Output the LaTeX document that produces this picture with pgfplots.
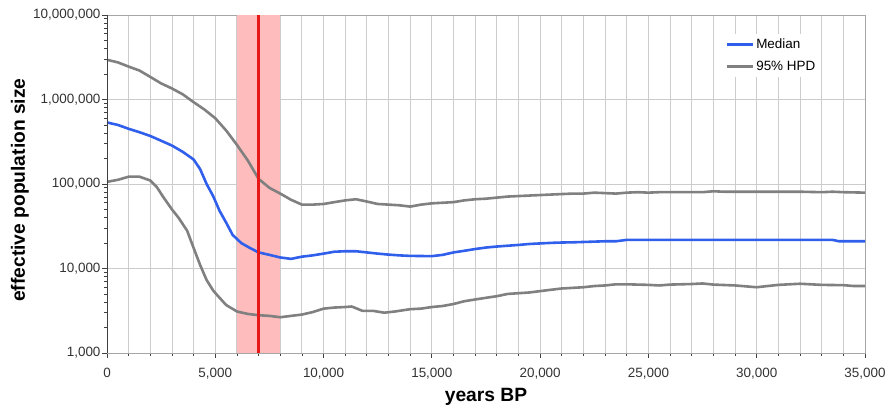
\documentclass[border=0pt]{standalone}
\usepackage{fontspec}
\setmainfont{Liberation Sans}
\usepackage{pgfplots}
\pgfplotsset{compat=1.18}

\definecolor{medblue}{RGB}{48,96,235}
\definecolor{hpdgray}{RGB}{128,128,128}
\definecolor{bandred}{RGB}{255,188,188}
\definecolor{linered}{RGB}{232,24,24}
\definecolor{gridgray}{RGB}{204,204,204}

\begin{document}
\begin{tikzpicture}
\begin{axis}[
    width=758bp, height=338bp, scale only axis,
    ymode=log,
    xmin=0, xmax=35000,
    ymin=1000, ymax=10000000,
    xtick={0,5000,...,35000},
    scaled x ticks=false,
    minor xtick={0,1000,...,35000},
    ytick={1000,10000,100000,1000000,10000000},
    yticklabels={\textnormal{1,000},\textnormal{10,000},\textnormal{100,000},\textnormal{1,000,000},\textnormal{10,000,000}},
    minor ytick={2000,3000,4000,5000,6000,7000,8000,9000,
                 20000,30000,40000,50000,60000,70000,80000,90000,
                 200000,300000,400000,500000,600000,700000,800000,900000,
                 2000000,3000000,4000000,5000000,6000000,7000000,8000000,9000000},
    xminorgrids=true, xmajorgrids=true, ymajorgrids=true,
    grid style={gridgray, line width=0.9bp},
    minor grid style={gridgray, line width=0.9bp},
    tick pos=left, tick align=outside,
    major tick length=5bp, minor tick length=3bp,
    tick style={black!75, line width=0.8bp},
    axis line style={black!35, line width=0.9bp},
    xticklabel style={font=\fontsize{13.5}{16}\selectfont, text=black!80, yshift=-7bp,
        /pgf/number format/1000 sep={,}, /pgf/number format/assume math mode=true},
    yticklabel style={font=\fontsize{13.5}{16}\selectfont, text=black!80, xshift=2bp},
    xlabel={\bfseries years BP},
    ylabel={\bfseries effective population size},
    xlabel style={font=\fontsize{19.3}{23}\selectfont, at={(axis description cs:0.5,-0.130)}, anchor=center},
    ylabel style={font=\fontsize{19.3}{23}\selectfont, at={(axis description cs:-0.1148,0.482)}, anchor=center},
    legend style={draw=none, fill=white, at={(axis description cs:0.812,0.944)}, anchor=north west,
        font=\fontsize{13.5}{16}\selectfont, row sep=7bp, inner sep=3bp},
    legend cell align=left,
    legend image code/.code={\draw[#1] (0bp,0bp) -- (26bp,0bp);},
]
% highlighted interval
\addplot[draw=none, fill=bandred, forget plot] coordinates {(6000,1000) (6000,10000000) (8000,10000000) (8000,1000)} -- cycle;

% median
\addplot[medblue, line width=2.6bp, line join=round] coordinates {
(0,535000) (500,500000) (1000,450000) (1500,410000) (2000,370000) (2500,325000)
(3000,285000) (3500,240000) (4000,195000) (4300,150000) (4600,100000) (4900,72000)
(5200,48000) (5500,35000) (5800,25000) (6200,20000) (6600,17500) (7000,15500)
(7500,14500) (8000,13500) (8500,13000) (9000,13800) (9500,14300) (10000,15000)
(10500,15800) (11000,16000) (11500,16000) (12000,15500) (12500,15000) (13000,14600)
(13500,14300) (14000,14100) (15000,14000) (15500,14500) (16000,15500) (16500,16200)
(17000,17000) (17500,17700) (18000,18200) (18500,18600) (19000,19000) (19500,19500)
(20000,19800) (20500,20100) (21000,20300) (21500,20400) (22000,20600) (22500,20800)
(23000,21000) (23500,21000) (24000,21800) (25000,21800) (30000,21800) (33500,21800)
(33800,21000) (35000,21000)
};
\addlegendentry{Median}

% upper 95% HPD
\addplot[hpdgray, line width=2.6bp, line join=round] coordinates {
(0,2950000) (500,2750000) (1000,2450000) (1500,2200000) (2000,1850000) (2500,1550000)
(3000,1350000) (3500,1150000) (4000,930000) (4500,760000) (5000,600000) (5500,430000)
(6000,290000) (6500,190000) (7000,115000) (7500,90000) (8000,77000) (8500,65000)
(9000,57000) (9500,57000) (10000,58000) (10500,61000) (11000,64000) (11500,66000)
(12000,62000) (12500,58000) (13000,57000) (13500,56000) (14000,54000) (14500,57000)
(15000,59000) (15500,60000) (16000,61000) (16500,64000) (17000,66000) (17500,67000)
(18000,69000) (18500,71000) (19000,72000) (19500,73000) (20000,74000) (20500,75000)
(21000,76000) (21500,77000) (22000,77000) (22500,79000) (23000,78000) (23500,77000)
(24000,79000) (24500,80000) (25000,79000) (25500,80000) (26000,80000) (27000,80000)
(27500,80000) (28000,82000) (28500,81000) (29000,81000) (30000,81000) (31000,81000)
(32000,81000) (33000,80000) (33500,81000) (34000,80000) (35000,79000)
};
\addlegendentry{95\% HPD}

% lower 95% HPD
\addplot[hpdgray, line width=2.6bp, line join=round, forget plot] coordinates {
(0,106000) (500,112000) (1000,122000) (1500,122000) (2000,110000) (2300,92000)
(2600,70000) (3000,50000) (3300,40000) (3700,28000) (4000,17500) (4300,11000)
(4600,7300) (4900,5500) (5100,4800) (5500,3700) (6000,3100) (6500,2900)
(7000,2800) (7500,2750) (8000,2650) (8500,2750) (9000,2850) (9500,3050)
(10000,3350) (10500,3450) (11000,3500) (11300,3550) (11800,3150) (12300,3150)
(12800,3000) (13300,3100) (14000,3300) (14500,3350) (15000,3500) (15500,3600)
(16000,3800) (16500,4100) (17000,4300) (17500,4500) (18000,4700) (18500,5000)
(19000,5100) (19500,5200) (20000,5400) (20500,5600) (21000,5800) (22000,6000)
(22500,6200) (23000,6300) (23500,6500) (24000,6500) (25000,6400) (25500,6300)
(26000,6450) (27000,6550) (27500,6650) (28000,6450) (29000,6300) (30000,6000)
(30500,6200) (31000,6400) (32000,6600) (33000,6400) (34000,6350) (34500,6200)
(35000,6200)
};

% marked date
\addplot[linered, line width=2.6bp, forget plot] coordinates {(7000,1000) (7000,10000000)};

% darker left and bottom axis lines
\draw[black!75, line width=0.9bp] (rel axis cs:0,1) -- (rel axis cs:0,0) -- (rel axis cs:1,0);
\end{axis}
% page frame: same margins round the axis box as the reference
\pgfresetboundingbox
\path ([shift={(-107bp,-54bp)}]current axis.south west) rectangle ([shift={(24bp,15bp)}]current axis.north east);
\end{tikzpicture}
\end{document}
